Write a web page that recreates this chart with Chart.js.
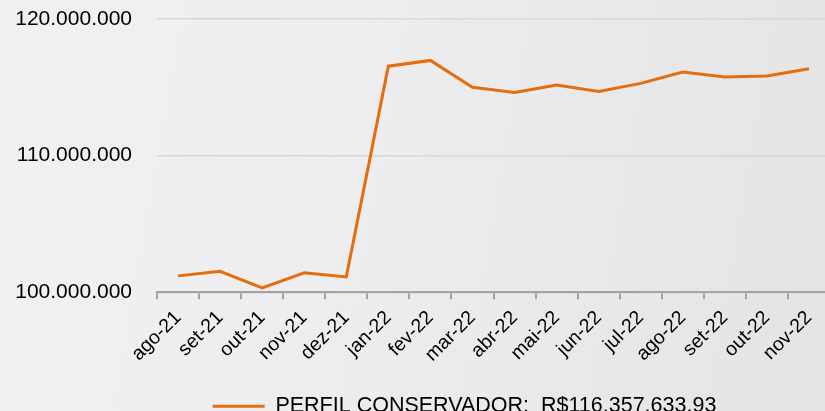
<!DOCTYPE html>
<html>
<head>
<meta charset="utf-8">
<script src="https://cdn.jsdelivr.net/npm/chart.js@4.4.0/dist/chart.umd.min.js"></script>
<style>
    html, body {
        margin: 0;
        padding: 0;
        overflow: hidden;
        width: 825px;
        height: 411px;
        background: linear-gradient(100deg, #f1f1f3 0%, #ededef 45%, #e4e4e5 100%);
    }
    #wrap {
        width: 830px;
        height: 427px;
    }
</style>
</head>
<body>
<div id="wrap"><canvas id="perfilChart"></canvas></div>
<script>
const months = ['ago-21', 'set-21', 'out-21', 'nov-21', 'dez-21', 'jan-22', 'fev-22', 'mar-22',
    'abr-22', 'mai-22', 'jun-22', 'jul-22', 'ago-22', 'set-22', 'out-22', 'nov-22'];
const conservadorValues = [101200000, 101530000, 100320000, 101420000, 101120000, 116550000, 116970000, 115000000,
    114620000, 115160000, 114700000, 115290000, 116120000, 115760000, 115830000, 116357634];
const yTicks = [100000000, 110000000, 120000000];
const seriesLabel = 'PERFIL CONSERVADOR:  R$116.357.633,93';

const orange = '#E56D0C';

function formatBR(v) {
    return v.toLocaleString('de-DE');
}

// legend in the original sits a bit right of the canvas centre
const shiftLegend = {
    id: 'shiftLegend',
    afterLayout(chart) {
        if (chart.legend) {
            chart.legend.left += 42;
            chart.legend.right += 42;
        }
    }
};

const ctx = document.getElementById('perfilChart').getContext('2d');
new Chart(ctx, {
    type: 'line',
    data: {
        labels: months,
        datasets: [{
            label: seriesLabel,
            data: conservadorValues,
            borderColor: orange,
            backgroundColor: orange,
            borderWidth: 3,
            pointRadius: 0,
            pointStyle: 'line',
            tension: 0
        }]
    },
    options: {
        responsive: true,
        maintainAspectRatio: false,
        animation: false,
        layout: {
            padding: { left: 15, top: 19, right: 0, bottom: 0 }
        },
        scales: {
            x: {
                offset: true,
                afterFit: axis => {
                    axis.paddingLeft = 0;
                    axis.paddingRight = 0;
                },
                grid: {
                    display: true,
                    drawOnChartArea: false,
                    offset: true,
                    tickLength: 7,
                    color: '#a3a3a3',
                    lineWidth: 2
                },
                border: { display: true, color: '#a3a3a3', width: 2 },
                ticks: {
                    minRotation: 45,
                    maxRotation: 45,
                    autoSkip: false,
                    color: '#000',
                    padding: 7,
                    font: { family: 'Liberation Sans', size: 19.5 }
                }
            },
            y: {
                min: 100000000,
                max: 120000000,
                afterBuildTicks: axis => {
                    axis.ticks = yTicks.map(v => ({ value: v }));
                },
                afterFit: axis => {
                    axis.width = 142;
                    axis.paddingTop = 0;
                    axis.paddingBottom = 0;
                },
                grid: {
                    color: '#d8d8d8',
                    lineWidth: 1.5,
                    drawTicks: false
                },
                border: { display: false },
                ticks: {
                    color: '#000',
                    padding: 25,
                    font: { family: 'Liberation Sans', size: 21 },
                    callback: v => formatBR(v)
                }
            }
        },
        plugins: {
            legend: {
                position: 'bottom',
                labels: {
                    usePointStyle: true,
                    pointStyle: 'line',
                    pointStyleWidth: 52,
                    color: '#000',
                    padding: 22,
                    font: { family: 'Liberation Sans', size: 21.5 }
                }
            },
            tooltip: { enabled: false }
        }
    },
    plugins: [shiftLegend]
});
</script>
</body>
</html>
